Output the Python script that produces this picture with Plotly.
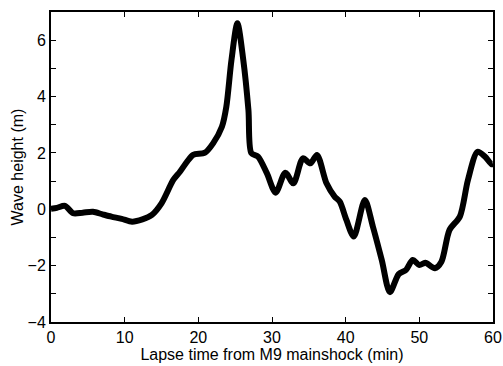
import plotly.graph_objects as go

time_min = [0.0, 0.8, 1.9, 3.0, 4.3, 5.7, 7.0, 8.2, 9.6, 11.0, 12.4, 13.7, 15.0, 16.6, 17.5,
            18.5, 19.3, 20.9, 22.0, 23.2, 23.8, 24.5, 25.3, 26.1, 26.8, 27.2, 28.1,
            29.3, 30.5, 31.8, 32.9, 34.2, 35.2, 36.1, 37.4, 38.5, 39.2, 40.1, 41.1,
            42.6, 43.7, 44.9, 46.0, 47.2, 48.2, 49.1, 50.0, 50.8, 52.1, 53.0, 54.1,
            55.5, 56.6, 57.9, 58.9, 59.8, 60.0]
wave_m = [0.02, 0.05, 0.12, -0.14, -0.12, -0.09, -0.18, -0.26, -0.34, -0.44, -0.36, -0.2, 0.21, 1.04, 1.33,
          1.7, 1.93, 2.01, 2.34, 2.93, 3.64, 5.3, 6.6, 5.3, 3.52, 1.99, 1.87,
          1.28, 0.59, 1.3, 0.92, 1.81, 1.63, 1.93, 0.92, 0.45, 0.27, -0.38, -0.97,
          0.33, -0.62, -1.8, -2.94, -2.3, -2.15, -1.8, -1.98, -1.9, -2.09, -1.86, -0.73,
          -0.26, 1.04, 2.04, 1.87, 1.6, 1.6]

FONT = dict(family="Liberation Sans, Arial", size=16, color="black")

fig = go.Figure()
fig.add_trace(go.Scatter(x=time_min, y=wave_m, mode="lines",
                         line=dict(color="black", width=6, shape="spline", smoothing=0.8),
                         showlegend=False, hoverinfo="skip"))

axis_common = dict(showline=True, linecolor="black", linewidth=2, mirror="ticks",
                   ticks="inside", ticklen=5, tickwidth=1, tickcolor="black",
                   showgrid=False, zeroline=False, tickfont=FONT, automargin=False)

fig.update_xaxes(range=[0, 60], tickvals=[0, 10, 20, 30, 40, 50, 60],
                 title=dict(text="Lapse time from M9 mainshock (min)", standoff=4, font=FONT),
                 **axis_common)
fig.update_yaxes(range=[-4, 7], tickvals=[-4, -2, 0, 2, 4, 6],
                 minor=dict(tickvals=[-3, -1, 1, 3, 5], ticks="inside", ticklen=5, tickcolor="black", tickwidth=1),
                 title=dict(text="Wave height (m)", standoff=0, font=FONT),
                 **axis_common)

fig.update_layout(width=503, height=366, margin=dict(l=51, r=10, t=12, b=44),
                  plot_bgcolor="white", paper_bgcolor="white")

fig.write_html("out.html")
